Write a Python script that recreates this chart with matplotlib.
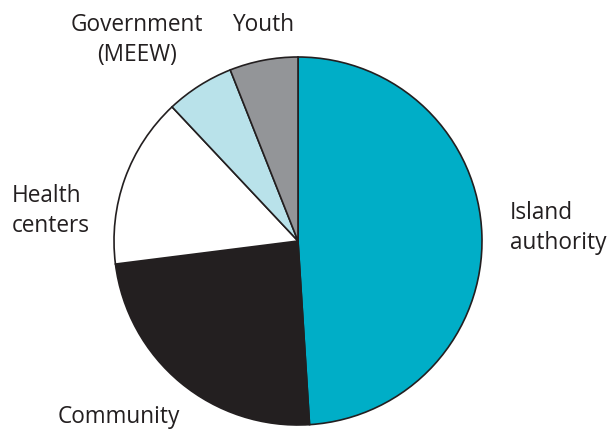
import matplotlib.pyplot as plt

# Shares by stakeholder group (percent), clockwise from 12 o'clock
groups = ["Island\nauthority", "Community", "Health\ncenters", "Government\n(MEEW)", "Youth"]
shares = [49, 24, 15, 6, 6]
colors = ["#00AEC7", "#231F20", "#FFFFFF", "#B9E2EA", "#939598"]

W, H = 609, 432
fig = plt.figure(figsize=(W / 100, H / 100), dpi=100)

# square axes holding the pie, centre (298, 241) px, radius 184 px
cx, cy, r = 298, 241, 184
ax = fig.add_axes([(cx - r) / W, (H - cy - r) / H, 2 * r / W, 2 * r / H])
ax.pie(shares, colors=colors, startangle=90, counterclock=False, radius=1,
       wedgeprops=dict(edgecolor="#231F20", linewidth=1.2))
ax.set_xlim(-1, 1)
ax.set_ylim(-1, 1)
ax.set_aspect("equal")
ax.axis("off")

font = dict(family=["Open Sans", "DejaVu Sans"], fontsize=16.3, color="#231F20",
            linespacing=1.3)


def label(text, px, py, ha):
    fig.text(px / W, 1 - py / H, text, ha=ha, va="center", **font)


label(groups[0], 510, 228, "left")
label(groups[1], 58, 417, "left")
label(groups[2], 12, 211, "left")
label(groups[3], 137, 40, "center")
label(groups[4], 263, 25, "center")

fig.savefig("out.png", dpi=100)
